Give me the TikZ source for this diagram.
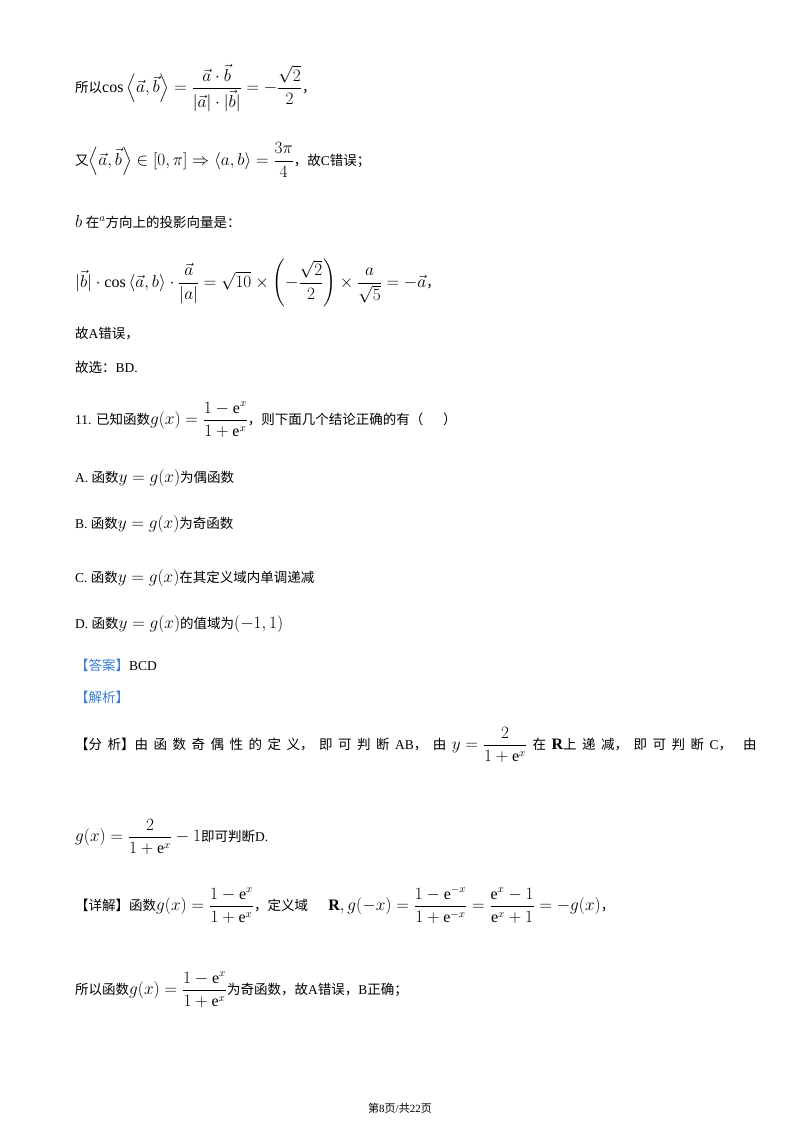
\documentclass[tikz,border=0pt]{standalone}
\usepackage{amsmath,amssymb}
\usepackage{fontspec}
\setmainfont{Liberation Serif}
\newfontfamily\cjk{Noto Sans CJK SC}
\definecolor{ansblue}{HTML}{3B7DD8}
\newcommand{\zh}[1]{{\cjk #1}}
\newcommand{\m}[1]{{\fontsize{16}{18}\selectfont$#1$}}
\newcommand{\g}{\hspace{5.5pt}}
\newcommand{\va}{\vec{a}}
\newcommand{\vb}{\vec{b}}
\begin{document}
\begin{tikzpicture}[x=1pt,y=-1pt,
  line/.style={anchor=west,inner sep=0pt,font=\fontsize{13.5}{15}\selectfont}]
\useasboundingbox (0,0) rectangle (800,1132);
\fill[white] (0,0) rectangle (800,1132);
\node[line] (l1) at (75,88) {\zh{所以}\m{\cos\left\langle \va,\vb\right\rangle=\dfrac{\va\cdot\vb}{|\va|\cdot|\vb|}=-\dfrac{\sqrt2}{2}}\zh{，}};
\node[line] (l2) at (75,160) {\zh{又}\m{\left\langle \va,\vb\right\rangle\in[0,\pi]\Rightarrow\left\langle a,b\right\rangle=\dfrac{3\pi}{4}}\zh{，故}C\zh{错误；}};
\node[line] (l3) at (75,222) {\m{b}\ \zh{在}\m{^{a}}\zh{方向上的投影向量是：}};
\node[line] (l4) at (75,283) {\m{|\vb|\cdot\cos\left\langle \va,b\right\rangle\cdot\dfrac{\va}{|a|}=\sqrt{10}\times\left(-\dfrac{\sqrt2}{2}\right)\times\dfrac{a}{\sqrt5}=-\va}\zh{，}};
\node[line] (l5) at (75,334) {\zh{故}A\zh{错误，}};
\node[line] (l6) at (75,367) {\zh{故选：}BD.};
\node[line] (l7) at (75,420) {11. \zh{已知函数}\m{g(x)=\dfrac{1-\mathrm{e}^x}{1+\mathrm{e}^x}}\zh{，则下面几个结论正确的有（\quad\ \ ）}};
\node[line] (l8) at (75,478) {A. \zh{函数}\m{y=g(x)}\zh{为偶函数}};
\node[line] (l9) at (75,524) {B. \zh{函数}\m{y=g(x)}\zh{为奇函数}};
\node[line] (l10) at (75,578) {C. \zh{函数}\m{y=g(x)}\zh{在其定义域内单调递减}};
\node[line] (l11) at (75,624) {D. \zh{函数}\m{y=g(x)}\zh{的值域为}\m{(-1,1)}};
\node[line] (l12) at (75,665) {\textcolor{ansblue}{\zh{【答案】}}BCD};
\node[line] (l13) at (75,697) {\textcolor{ansblue}{\zh{【解析】}}};
\node[line] (l14) at (75,745) {\zh{【分\g 析】由\g 函\g 数\g 奇\g 偶\g 性\g 的\g 定\g 义，\g 即\g 可\g 判\g 断}\g AB\zh{，\g 由}\g \m{y=\dfrac{2}{1+\mathrm{e}^x}}\g \zh{在}\g \m{\mathbf{R}}\zh{上\g 递\g 减，\g 即\g 可\g 判\g 断}\g C\zh{，\g\g 由}};
\node[line] (l15) at (75,837) {\m{g(x)=\dfrac{2}{1+\mathrm{e}^x}-1}\zh{即可判断}D.};
\node[line] (l16) at (75,905) {\zh{【详解】函数}\m{g(x)=\dfrac{1-\mathrm{e}^x}{1+\mathrm{e}^x}}\zh{，定义域}\quad\ \ \m{\mathbf{R},g(-x)=\dfrac{1-\mathrm{e}^{-x}}{1+\mathrm{e}^{-x}}=\dfrac{\mathrm{e}^x-1}{\mathrm{e}^x+1}=-g(x)}\zh{，}};
\node[line] (l17) at (75,990) {\zh{所以函数}\m{g(x)=\dfrac{1-\mathrm{e}^x}{1+\mathrm{e}^x}}\zh{为奇函数，故}A\zh{错误，}B\zh{正确；}};
\node[inner sep=0pt,font=\fontsize{11}{13}\selectfont] (foot) at (400,1108) {\zh{第}8\zh{页}/\zh{共}22\zh{页}};
\end{tikzpicture}
\end{document}
